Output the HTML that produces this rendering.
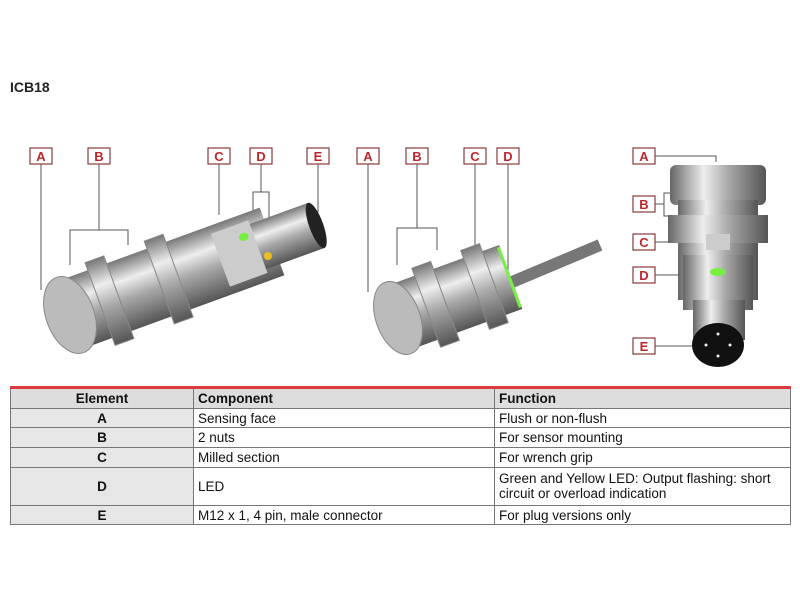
<!DOCTYPE html>
<html><head><style>
body{margin:0;width:800px;height:600px;background:#fff;font-family:"Liberation Sans",Arial,sans-serif;position:relative;overflow:hidden}
.t{position:absolute;left:10px;top:79px;font-weight:bold;font-size:14px;color:#222}
table{position:absolute;left:10px;top:386px;width:780px;table-layout:fixed;border-collapse:collapse;font-size:13.5px;color:#111;border-top:3px solid #d9393f}
td{border:1px solid #777;padding:0 4px;height:18.7px;line-height:15px}
tr.h td{background:#ddd;font-weight:bold}
td.e{background:#e6e6e6;text-align:center;font-weight:bold}
</style></head><body>
<div class="t">ICB18</div>
<svg width="800" height="380" style="position:absolute;left:0;top:0">
<defs>
<linearGradient id="m" x1="0" y1="0" x2="0" y2="1"><stop offset="0" stop-color="#777"/><stop offset=".3" stop-color="#eee"/><stop offset=".55" stop-color="#aaa"/><stop offset="1" stop-color="#555"/></linearGradient>
<linearGradient id="mv" x1="0" y1="0" x2="1" y2="0"><stop offset="0" stop-color="#666"/><stop offset=".35" stop-color="#eee"/><stop offset=".6" stop-color="#aaa"/><stop offset="1" stop-color="#555"/></linearGradient>
</defs>
<g fill="none" stroke="#555" stroke-width="1">
<polyline points="41,164 41,290"/><polyline points="99,164 99,230 70,230 70,265"/><polyline points="99,230 128,230 128,245"/>
<polyline points="219,164 219,215"/><polyline points="261,164 261,192 253,192 253,225"/><polyline points="261,192 269,192 269,255"/><polyline points="318,164 318,212 312,212"/>
<polyline points="368,164 368,292"/><polyline points="417,164 417,228 397,228 397,265"/><polyline points="417,228 437,228 437,250"/><polyline points="475,164 475,245"/><polyline points="508,164 508,275"/>
<polyline points="655,156 716,156 716,162"/><polyline points="655,204 664,204 664,193 680,193"/><polyline points="664,204 664,216 676,216"/><polyline points="655,242 706,242"/><polyline points="655,275 710,275"/><polyline points="655,346 692,346"/>
</g>
<g transform="translate(70,315) rotate(-20)">
<rect x="0" y="-36" width="215" height="72" fill="url(#m)"/>
<rect x="160" y="-28" width="40" height="56" fill="#ccc"/>
<rect x="200" y="-24" width="62" height="48" fill="url(#m)"/>
<ellipse cx="262" cy="0" rx="7" ry="24" fill="#222"/>
<rect x="32" y="-44" width="20" height="88" fill="url(#m)" stroke="#888"/>
<rect x="95" y="-44" width="20" height="88" fill="url(#m)" stroke="#888"/>
<ellipse cx="0" cy="0" rx="24" ry="40" fill="#bbb" stroke="#888"/>
<ellipse cx="190" cy="-14" rx="5" ry="4" fill="#7e4"/>
</g>
<circle cx="268" cy="256" r="4" fill="#e8c020"/>
<line x1="505" y1="285" x2="600" y2="245" stroke="#777" stroke-width="12"/>
<g transform="translate(398,318) rotate(-20)">
<rect x="0" y="-34" width="120" height="68" fill="url(#m)"/>
<rect x="30" y="-42" width="20" height="84" fill="url(#m)" stroke="#888"/>
<rect x="82" y="-42" width="20" height="84" fill="url(#m)" stroke="#888"/>
<ellipse cx="0" cy="0" rx="22" ry="38" fill="#bbb" stroke="#888"/>
<rect x="117" y="-32" width="3" height="64" fill="#7e4"/>
</g>
<rect x="670" y="165" width="96" height="40" rx="6" fill="url(#mv)"/>
<rect x="678" y="200" width="80" height="100" fill="url(#mv)"/>
<rect x="668" y="215" width="100" height="28" fill="url(#mv)"/>
<rect x="706" y="234" width="24" height="16" fill="#ccc"/>
<rect x="683" y="255" width="70" height="55" fill="url(#mv)"/>
<ellipse cx="718" cy="272" rx="8" ry="4" fill="#7e4"/>
<rect x="693" y="300" width="52" height="40" fill="url(#mv)"/>
<ellipse cx="718" cy="345" rx="26" ry="22" fill="#111"/>
<g fill="#eee"><circle cx="718" cy="334" r="1.5"/><circle cx="706" cy="345" r="1.5"/><circle cx="730" cy="345" r="1.5"/><circle cx="718" cy="356" r="1.5"/></g>
<g fill="#fff" stroke="#8a3a3a" stroke-width="1.2">
<rect x="30" y="148" width="22" height="16"/><rect x="88" y="148" width="22" height="16"/><rect x="208" y="148" width="22" height="16"/><rect x="250" y="148" width="22" height="16"/><rect x="307" y="148" width="22" height="16"/>
<rect x="357" y="148" width="22" height="16"/><rect x="406" y="148" width="22" height="16"/><rect x="464" y="148" width="22" height="16"/><rect x="497" y="148" width="22" height="16"/>
<rect x="633" y="148" width="22" height="16"/><rect x="633" y="196" width="22" height="16"/><rect x="633" y="234" width="22" height="16"/><rect x="633" y="267" width="22" height="16"/><rect x="633" y="338" width="22" height="16"/>
</g>
<g fill="#c0272d" font-weight="bold" font-size="13" text-anchor="middle" font-family="Liberation Sans,sans-serif">
<text x="41" y="161">A</text><text x="99" y="161">B</text><text x="219" y="161">C</text><text x="261" y="161">D</text><text x="318" y="161">E</text>
<text x="368" y="161">A</text><text x="417" y="161">B</text><text x="475" y="161">C</text><text x="508" y="161">D</text>
<text x="644" y="161">A</text><text x="644" y="209">B</text><text x="644" y="247">C</text><text x="644" y="280">D</text><text x="644" y="351">E</text>
</g>
</svg>
<table>
<colgroup><col style="width:183px"><col style="width:301px"><col style="width:296px"></colgroup>
<tr class="h"><td class="e">Element</td><td>Component</td><td>Function</td></tr>
<tr><td class="e">A</td><td>Sensing face</td><td>Flush or non-flush</td></tr>
<tr><td class="e">B</td><td>2 nuts</td><td>For sensor mounting</td></tr>
<tr><td class="e">C</td><td>Milled section</td><td>For wrench grip</td></tr>
<tr><td class="e" style="height:37px">D</td><td>LED</td><td>Green and Yellow LED: Output flashing: short circuit or overload indication</td></tr>
<tr><td class="e">E</td><td>M12 x 1, 4 pin, male connector</td><td>For plug versions only</td></tr>
</table>
</body></html>
